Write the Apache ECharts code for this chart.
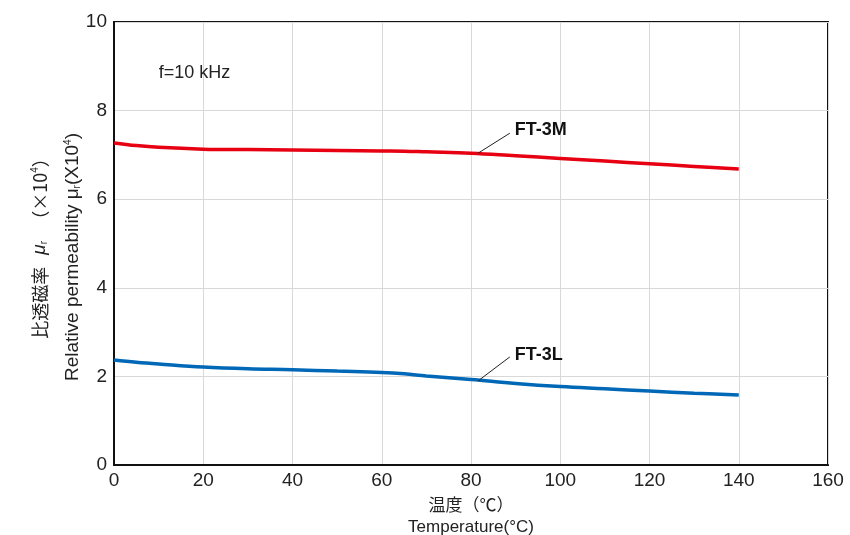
<!DOCTYPE html>
<html>
<head>
<meta charset="utf-8">
<script src="https://cdn.jsdelivr.net/npm/echarts@6/dist/echarts.min.js"></script>
<style>html,body{margin:0;padding:0;background:#fff}#c{width:850px;height:535px}</style>
</head>
<body>
<div id="c"></div>
<script>
var temps = [0, 5, 10, 20, 30, 40, 50, 60, 65, 70, 80, 90, 100, 110, 120, 130, 140];
var ft3m = [7.27, 7.21, 7.17, 7.13, 7.12, 7.11, 7.10, 7.09, 7.085, 7.07, 7.04, 6.98, 6.92, 6.86, 6.80, 6.74, 6.68];
var ft3l = [2.37, 2.32, 2.28, 2.21, 2.17, 2.15, 2.12, 2.09, 2.06, 2.01, 1.93, 1.84, 1.77, 1.72, 1.67, 1.62, 1.58];
var xTicks = [0, 20, 40, 60, 80, 100, 120, 140, 160];
var yTicks = [0, 2, 4, 6, 8, 10];
var seriesNames = ['FT-3M', 'FT-3L'];

var font = '"Liberation Sans", Arial, Helvetica, sans-serif';
var fontCJK = '"Liberation Sans", "Noto Sans CJK JP", sans-serif';
var chart = echarts.init(document.getElementById('c'));
function pairs(v) { return temps.map(function (t, i) { return [t, v[i]]; }); }

var option = {
  animation: false,
  backgroundColor: '#fff',
  grid: { left: 114, right: 22, top: 22, bottom: 70, outerBoundsMode: 'none', containLabel: false,
    show: true, borderColor: '#111', borderWidth: 2, backgroundColor: 'transparent' },
  xAxis: {
    type: 'value', min: 0, max: 160, interval: 20,
    axisLine: { show: true, lineStyle: { color: '#111', width: 2 } },
    axisTick: { show: false },
    splitLine: { show: true, lineStyle: { color: '#d8d8d8', width: 1 } },
    axisLabel: { color: '#222', fontSize: 19, fontFamily: font, margin: 6,
      formatter: function (v) { return xTicks.indexOf(v) >= 0 ? String(v) : ''; } },
    name: '温度（℃）\nTemperature(°C)', nameLocation: 'middle', nameGap: 31,
    nameTextStyle: { color: '#222', fontSize: 17, fontFamily: fontCJK, lineHeight: 21 }
  },
  yAxis: {
    type: 'value', min: 0, max: 10, interval: 2,
    axisLine: { show: true, lineStyle: { color: '#111', width: 2 } },
    axisTick: { show: false },
    splitLine: { show: true, lineStyle: { color: '#d8d8d8', width: 1 } },
    axisLabel: { color: '#222', fontSize: 19, fontFamily: font, margin: 7,
      formatter: function (v) { return yTicks.indexOf(v) >= 0 ? String(v) : ''; } }
  },
  series: [
    { name: seriesNames[0], type: 'line', data: pairs(ft3m), smooth: 0.4, showSymbol: false,
      lineStyle: { color: '#e60012', width: 3.5 }, itemStyle: { color: '#e60012' },
      markLine: { silent: true, symbol: 'none', label: { show: false },
        lineStyle: { color: '#222', width: 1, type: 'solid' },
        data: [[{ coord: [81.6, 7.04] }, { coord: [88.7, 7.49] }]] } },
    { name: seriesNames[1], type: 'line', data: pairs(ft3l), smooth: 0.4, showSymbol: false,
      lineStyle: { color: '#0068b7', width: 3.5 }, itemStyle: { color: '#0068b7' },
      markLine: { silent: true, symbol: 'none', label: { show: false },
        lineStyle: { color: '#222', width: 1, type: 'solid' },
        data: [[{ coord: [81.6, 1.90] }, { coord: [88.7, 2.44] }]] } }
  ]
};
chart.setOption(option);

var p3m = chart.convertToPixel({ gridIndex: 0 }, [89.8, 7.56]);
var p3l = chart.convertToPixel({ gridIndex: 0 }, [89.8, 2.49]);
var pf = chart.convertToPixel({ gridIndex: 0 }, [10, 8.85]);
chart.setOption({
  graphic: [
    { type: 'text', x: p3m[0], y: p3m[1], style: { text: seriesNames[0], font: 'bold 18px ' + font, fill: '#111', verticalAlign: 'middle' } },
    { type: 'text', x: p3l[0], y: p3l[1], style: { text: seriesNames[1], font: 'bold 18px ' + font, fill: '#111', verticalAlign: 'middle' } },
    { type: 'text', x: pf[0], y: pf[1], style: { text: 'f=10 kHz', font: '18px ' + font, fill: '#222', verticalAlign: 'middle' } },
    { type: 'text', x: 40, y: 244, rotation: Math.PI / 2, style: {
        text: '比透磁率   {i|μ}{s|r}   （×10{p|4}）', align: 'center', verticalAlign: 'middle',
        font: '18px "Noto Sans CJK JP", ' + font, fill: '#222',
        rich: { i: { fontSize: 19, fontStyle: 'italic', fontFamily: font, fill: '#222' },
                s: { fontSize: 10, fontFamily: font, verticalAlign: 'bottom', fill: '#222' },
                p: { fontSize: 10, fontFamily: font, verticalAlign: 'top', fill: '#222' } } } },
    { type: 'text', x: 73, y: 257, rotation: Math.PI / 2, style: {
        text: 'Relative permeability μ{s|r}(X10{p|4})', align: 'center', verticalAlign: 'middle',
        font: '19px ' + font, fill: '#222',
        rich: { s: { fontSize: 10, fontFamily: font, verticalAlign: 'bottom', fill: '#222' },
                p: { fontSize: 10, fontFamily: font, verticalAlign: 'top', fill: '#222' } } } }
  ]
});
</script>
</body>
</html>
